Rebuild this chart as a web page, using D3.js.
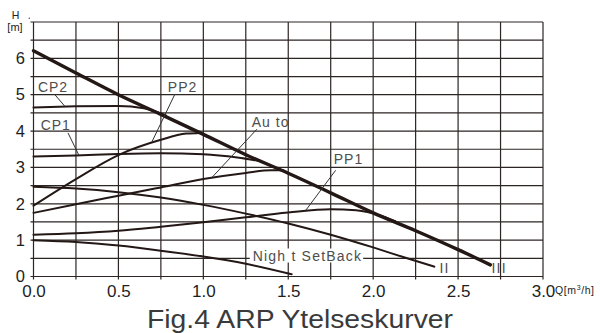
<!DOCTYPE html>
<html>
<head>
<meta charset="utf-8">
<script src="https://cdn.jsdelivr.net/npm/d3@7/dist/d3.min.js"></script>
<style>
  html, body { margin: 0; padding: 0; background: #fff; }
  svg { display: block; }
  text { font-family: "Liberation Sans", Arial, sans-serif; }
</style>
</head>
<body>
<svg id="chart" width="600" height="333"></svg>
<script>
// Pump performance curves: head H [m] versus flow Q [m³/h]
const speedIII   = [[0,6.21],[0.25,5.6],[0.5,5.0],[0.75,4.46],[1.0,3.91],[1.25,3.35],[1.5,2.84],[1.75,2.3],[2.0,1.75],[2.25,1.26],[2.5,0.74],[2.69,0.32]];
const speedII    = [[0,2.47],[0.25,2.42],[0.5,2.32],[0.75,2.17],[1.0,1.97],[1.25,1.73],[1.5,1.46],[1.75,1.15],[2.0,0.8],[2.2,0.5],[2.36,0.27]];
const nightSetBack = [[0,1.0],[0.25,0.95],[0.5,0.85],[0.75,0.71],[1.0,0.55],[1.25,0.35],[1.52,0.06]];
const pp1  = [[0,1.15],[0.25,1.19],[0.5,1.26],[0.75,1.37],[1.0,1.49],[1.25,1.63],[1.5,1.76],[1.75,1.85],[1.9,1.82],[2.04,1.68],[2.13,1.52]];
const auto = [[0,1.75],[0.25,1.99],[0.5,2.22],[0.75,2.45],[1.0,2.68],[1.25,2.85],[1.4,2.92],[1.47,2.92]];
const cp1  = [[0,3.30],[0.25,3.33],[0.5,3.37],[0.75,3.39],[1.0,3.36],[1.2,3.27],[1.34,3.17]];
const cp2  = [[0,4.65],[0.25,4.68],[0.5,4.69],[0.65,4.63],[0.78,4.43]];
const pp2  = [[0,1.95],[0.25,2.68],[0.5,3.34],[0.75,3.76],[0.9,3.93],[0.98,3.95]];

const xTickValues = [0, 0.5, 1.0, 1.5, 2.0, 2.5, 3.0];
const yTickValues = [0, 1, 2, 3, 4, 5, 6];
const xGridValues = d3.range(0, 3.0001, 0.25);
const yGridValues = d3.range(0, 7.0001, 0.5);

// curve name labels with leader lines (data coordinates)
const curveLabels = [
  { text: "CP2", at: [0.026, 5.07], from: [0.126, 5.0],  to: [0.185, 4.68] },
  { text: "CP1", at: [0.042, 4.03], from: [0.203, 3.95], to: [0.268, 3.33] },
  { text: "PP2", at: [0.791, 5.07], from: [0.832, 5.01], to: [0.697, 3.70] },
  { text: "Au to", at: [1.285, 4.11], from: [1.315, 4.05], to: [1.05, 2.72] },
  { text: "PP1", at: [1.768, 3.09], from: [1.779, 2.92], to: [1.603, 1.82] }
];
const speedLabels = [
  { text: "II",  at: [2.39, 0.10] },
  { text: "III", at: [2.697, 0.10] }
];

const svg = d3.select("#chart");
const x = d3.scaleLinear().domain([0, 3]).range([33.5, 543]);
const y = d3.scaleLinear().domain([0, 7]).range([276.5, 22]);
const ink = "#231815";

// grid
const grid = svg.append("g");
grid.selectAll("line.v").data(xGridValues).join("line")
  .attr("x1", d => x(d)).attr("x2", d => x(d))
  .attr("y1", y(7)).attr("y2", y(0) + 3)
  .attr("stroke", "#2b2523").attr("stroke-width", 1.2);
grid.selectAll("line.h").data(yGridValues).join("line")
  .attr("x1", x(0) - 3).attr("x2", x(3))
  .attr("y1", d => y(d)).attr("y2", d => y(d))
  .attr("stroke", "#2b2523").attr("stroke-width", 1.2);

// axes labels
const xAxis = d3.axisBottom(x).tickValues(xTickValues).tickFormat(d3.format(".1f")).tickSize(0).tickPadding(8);
const gx = svg.append("g").attr("transform", `translate(0,${y(0)})`).call(xAxis);
gx.select(".domain").remove();
gx.selectAll("text").attr("font-size", 17).attr("fill", "#1e1e1e")
  .attr("font-family", "Liberation Sans, Arial, sans-serif").attr("dy", "0.72em");

const yAxis = d3.axisLeft(y).tickValues(yTickValues).tickFormat(d3.format("d")).tickSize(0).tickPadding(8.5);
const gy = svg.append("g").attr("transform", `translate(${x(0)},0)`).call(yAxis);
gy.select(".domain").remove();
gy.selectAll("text").attr("font-size", 16.5).attr("fill", "#1e1e1e")
  .attr("font-family", "Liberation Sans, Arial, sans-serif");

// axis units
svg.append("text").attr("x", 15.5).attr("y", 19).attr("text-anchor", "middle")
  .attr("font-size", 10.5).attr("fill", "#222").text("H");
svg.append("circle").attr("cx", 29.3).attr("cy", 18.3).attr("r", 0.7).attr("fill", "#444");
svg.append("text").attr("x", 15).attr("y", 31).attr("text-anchor", "middle")
  .attr("font-size", 11).attr("fill", "#222").text("[m]");
const qUnit = svg.append("text").attr("x", 555).attr("y", 293.5)
  .attr("font-size", 10.5).attr("fill", "#222").attr("letter-spacing", 0.6);
qUnit.append("tspan").text("Q[m");
qUnit.append("tspan").attr("font-size", 7).attr("dy", -4).text("3");
qUnit.append("tspan").attr("dy", 4).text("/h]");

// curves
const line = d3.line().x(d => x(d[0])).y(d => y(d[1])).curve(d3.curveMonotoneX);
const curves = svg.append("g").attr("fill", "none").attr("stroke", ink).attr("stroke-linecap", "round");
[speedII, nightSetBack, pp1, auto, cp1, cp2, pp2].forEach(c => {
  curves.append("path").datum(c).attr("d", line).attr("stroke-width", 2);
});
curves.append("path").datum(speedIII).attr("d", line).attr("stroke-width", 3.4);

// leader lines and labels
const labelColor = "#4d4d4d";
curveLabels.forEach(l => {
  svg.append("line")
    .attr("x1", x(l.from[0])).attr("y1", y(l.from[1]))
    .attr("x2", x(l.to[0])).attr("y2", y(l.to[1]))
    .attr("stroke", "#333").attr("stroke-width", 1);
  svg.append("text").attr("x", x(l.at[0])).attr("y", y(l.at[1]))
    .attr("font-size", 14).attr("letter-spacing", 1).attr("fill", labelColor).text(l.text);
});

const nightLabel = svg.append("g");
const nt = nightLabel.append("text").attr("x", x(1.291)).attr("y", y(0.44))
  .attr("font-size", 14).attr("letter-spacing", 1.2).attr("fill", labelColor).text("Nigh t SetBack");
const bb = nt.node().getBBox();
nightLabel.insert("rect", "text").attr("x", bb.x - 3).attr("y", bb.y + 1)
  .attr("width", bb.width + 4).attr("height", bb.height - 2).attr("fill", "#fff");

speedLabels.forEach(l => {
  svg.append("text").attr("x", x(l.at[0])).attr("y", y(l.at[1]))
    .attr("font-size", 14).attr("letter-spacing", 1.2).attr("fill", labelColor).text(l.text);
});

// caption
svg.append("text").attr("x", 300).attr("y", 328).attr("text-anchor", "middle")
  .attr("font-family", "Roboto, 'Open Sans', sans-serif").attr("font-size", 25)
  .attr("fill", "#3a3a3a").attr("textLength", 306).attr("lengthAdjust", "spacingAndGlyphs")
  .text("Fig.4 ARP Ytelseskurver");
</script>
</body>
</html>
